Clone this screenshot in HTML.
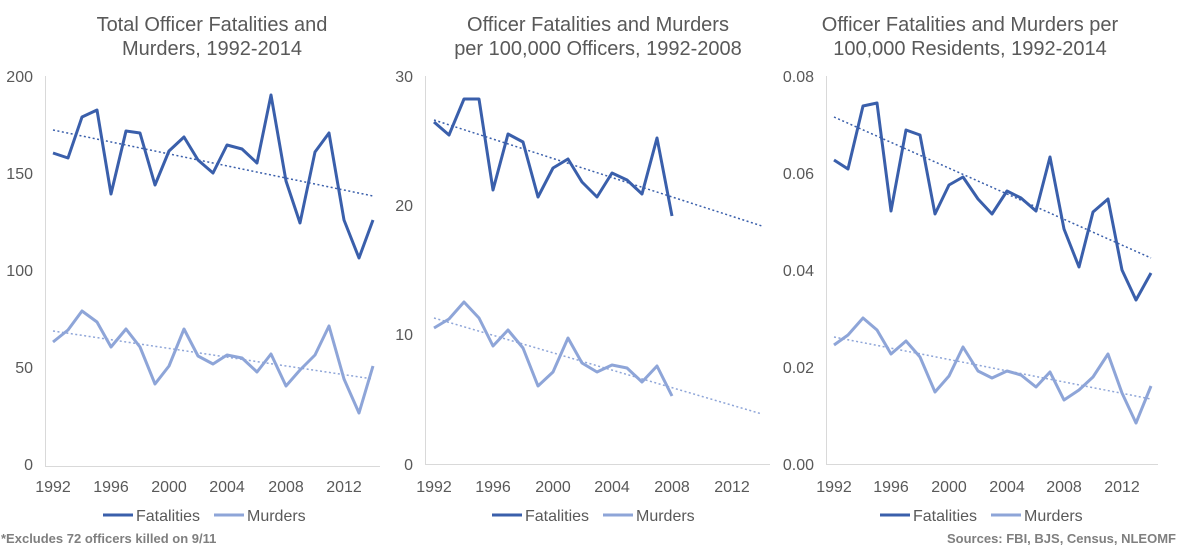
<!DOCTYPE html>
<html><head><meta charset="utf-8"><style>
html,body{margin:0;padding:0;background:#fff;}
svg{display:block;font-family:"Liberation Sans",Arial,sans-serif;}
.t{font-size:20px;fill:#595959;text-anchor:middle;}
.tk{font-size:16px;fill:#595959;}
.lg{font-size:16px;fill:#595959;}
.f{fill:none;stroke:#3a5fab;stroke-width:3;stroke-linejoin:round;}
.m{fill:none;stroke:#8ea5d8;stroke-width:3;stroke-linejoin:round;}
.tf{stroke:#3a5fab;stroke-width:1.5;stroke-dasharray:2,2.5;}
.tm{stroke:#8ea5d8;stroke-width:1.5;stroke-dasharray:2,2.5;}
.ax{stroke:#d9d9d9;stroke-width:1;}
.ft{font-size:13px;font-weight:bold;fill:#7f7f7f;}
</style></head><body>
<svg width="1181" height="550" viewBox="0 0 1181 550">
<!-- Chart 1 -->
<text class="t" x="212" y="31">Total Officer Fatalities and</text>
<text class="t" x="212" y="55">Murders, 1992-2014</text>
<g class="tk" text-anchor="end">
<text x="33" y="82">200</text><text x="33" y="179">150</text><text x="33" y="276">100</text><text x="33" y="373">50</text><text x="33" y="470">0</text>
</g>
<line class="ax" x1="45.5" y1="76" x2="45.5" y2="466"/>
<line class="ax" x1="45" y1="466.5" x2="380" y2="466.5"/>
<g class="tk" text-anchor="middle">
<text x="53" y="492">1992</text><text x="111" y="492">1996</text><text x="169" y="492">2000</text><text x="227" y="492">2004</text><text x="286" y="492">2008</text><text x="344" y="492">2012</text>
</g>
<line class="tf" x1="53" y1="130" x2="373" y2="196"/>
<line class="tm" x1="53" y1="331" x2="373" y2="379"/>
<polyline class="f" points="53,153 68,158 82,117 97,110 111,194 126,131 140,133 155,185 169,151 184,137 198,160 213,173 227,145 242,149 257,163 271,95 286,181 300,223 315,152 329,133 344,220 359,258 373,220"/>
<polyline class="m" points="53,342 68,330 82,311 97,322 111,347 126,329 140,347 155,384 169,366 184,329 198,356 213,364 227,355 242,358 257,372 271,354 286,386 300,370 315,355 329,326 344,379 359,413 373,366"/>
<line x1="103" y1="515" x2="133" y2="515" stroke="#3a5fab" stroke-width="3"/><text class="lg" x="136" y="521">Fatalities</text>
<line x1="214" y1="515" x2="244" y2="515" stroke="#8ea5d8" stroke-width="3"/><text class="lg" x="247" y="521">Murders</text>
<text class="ft" x="1" y="543">*Excludes 72 officers killed on 9/11</text>

<!-- Chart 2 -->
<text class="t" x="598" y="31">Officer Fatalities and Murders</text>
<text class="t" x="598" y="55">per 100,000 Officers, 1992-2008</text>
<g class="tk" text-anchor="end">
<text x="413" y="82">30</text><text x="413" y="211">20</text><text x="413" y="340">10</text><text x="413" y="470">0</text>
</g>
<line class="ax" x1="425.5" y1="76" x2="425.5" y2="464"/>
<line class="ax" x1="425" y1="464.5" x2="770" y2="464.5"/>
<g class="tk" text-anchor="middle">
<text x="434" y="492">1992</text><text x="493" y="492">1996</text><text x="553" y="492">2000</text><text x="612" y="492">2004</text><text x="672" y="492">2008</text><text x="732" y="492">2012</text>
</g>
<line class="tf" x1="434" y1="120" x2="762" y2="226"/>
<line class="tm" x1="434" y1="318" x2="762" y2="414"/>
<polyline class="f" points="434,122 449,135 464,99 479,99 493,190 508,134 523,142 538,197 553,168 568,159 582,182 597,197 612,173 627,180 642,194 657,138 672,216"/>
<polyline class="m" points="434,328 449,319 464,302 479,318 493,346 508,330 523,348 538,386 553,372 568,338 582,363 597,372 612,365 627,368 642,382 657,366 672,396"/>
<line x1="492" y1="515" x2="522" y2="515" stroke="#3a5fab" stroke-width="3"/><text class="lg" x="525" y="521">Fatalities</text>
<line x1="603" y1="515" x2="633" y2="515" stroke="#8ea5d8" stroke-width="3"/><text class="lg" x="636" y="521">Murders</text>

<!-- Chart 3 -->
<text class="t" x="970" y="31">Officer Fatalities and Murders per</text>
<text class="t" x="970" y="55">100,000 Residents, 1992-2014</text>
<g class="tk" text-anchor="end">
<text x="814" y="82">0.08</text><text x="814" y="179">0.06</text><text x="814" y="276">0.04</text><text x="814" y="373">0.02</text><text x="814" y="470">0.00</text>
</g>
<line class="ax" x1="826.5" y1="76" x2="826.5" y2="464"/>
<line class="ax" x1="826" y1="464.5" x2="1158" y2="464.5"/>
<g class="tk" text-anchor="middle">
<text x="834" y="492">1992</text><text x="891" y="492">1996</text><text x="949" y="492">2000</text><text x="1007" y="492">2004</text><text x="1064" y="492">2008</text><text x="1122" y="492">2012</text>
</g>
<line class="tf" x1="834" y1="117" x2="1151" y2="258"/>
<line class="tm" x1="834" y1="337" x2="1151" y2="399"/>
<polyline class="f" points="834,160 848,169 863,106 877,103 891,211 906,130 920,135 935,214 949,185 963,177 978,199 992,214 1007,191 1021,198 1036,211 1050,157 1064,229 1079,267 1093,212 1108,199 1122,270 1136,300 1151,273"/>
<polyline class="m" points="834,345 848,335 863,318 877,330 891,354 906,341 920,357 935,392 949,376 963,347 978,371 992,378 1007,371 1021,375 1036,387 1050,372 1064,400 1079,390 1093,377 1108,354 1122,393 1136,423 1151,386"/>
<line x1="880" y1="515" x2="910" y2="515" stroke="#3a5fab" stroke-width="3"/><text class="lg" x="913" y="521">Fatalities</text>
<line x1="991" y1="515" x2="1021" y2="515" stroke="#8ea5d8" stroke-width="3"/><text class="lg" x="1024" y="521">Murders</text>
<text class="ft" x="1176" y="543" text-anchor="end">Sources: FBI, BJS, Census, NLEOMF</text>
</svg>
</body></html>
